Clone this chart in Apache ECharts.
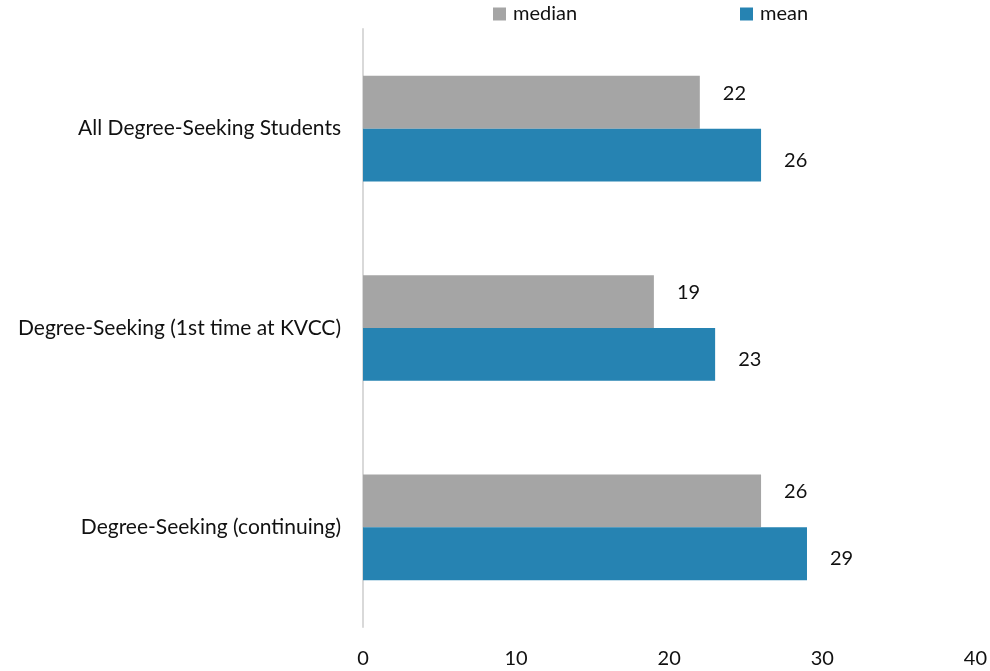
<!DOCTYPE html>
<html>
<head>
<meta charset="utf-8">
<script src="https://cdn.jsdelivr.net/npm/echarts@6/dist/echarts.min.js"></script>
<style>
  html, body { margin: 0; padding: 0; background: #fff; }
  #chart { width: 990px; height: 671px; }
</style>
</head>
<body>
<div id="chart"></div>
<script>
  // 分类和数据
  const categories = ['All Degree-Seeking Students', 'Degree-Seeking (1st time at KVCC)', 'Degree-Seeking (continuing)']
  const medianValues = [22, 19, 26]
  const meanValues = [26, 23, 29]
  const xTicks = [0, 10, 20, 30, 40]

  const chart = echarts.init(document.getElementById('chart'))
  // 图例样式
  const legendBase = {
    top: 4,
    padding: 0,
    itemWidth: 13,
    itemHeight: 13,
    icon: 'rect',
    textStyle: { fontSize: 20, color: '#111', fontFamily: 'Lato', padding: [0, 0, 0, 2] }
  }
  const option = {
    animation: false,
    textStyle: { fontFamily: 'Lato' },
    legend: [
      Object.assign({ left: 493, data: ['median'] }, legendBase),
      Object.assign({ left: 740, data: ['mean'] }, legendBase)
    ],
    grid: { left: 363, right: 13, top: 29, bottom: 44 },
    xAxis: {
      type: 'value',
      min: xTicks[0],
      max: xTicks[xTicks.length - 1],
      interval: 10,
      axisLine: { show: false },
      axisTick: { show: false },
      splitLine: { show: false },
      axisLabel: { fontSize: 20, color: '#111', margin: 22, fontFamily: 'Lato' }
    },
    yAxis: {
      type: 'category',
      inverse: true,
      data: categories,
      axisLine: { show: true, lineStyle: { color: '#d9d9d9', width: 2 } },
      axisTick: { show: false },
      axisLabel: { fontSize: 21, color: '#111', margin: 22, fontFamily: 'Lato' }
    },
    series: [
      {
        name: 'median',
        type: 'bar',
        data: medianValues,
        barGap: '0%',
        barCategoryGap: '47%',
        itemStyle: { color: '#a5a5a5' },
        label: { show: true, position: 'right', distance: 23, offset: [0, -9], fontSize: 20, color: '#111', fontFamily: 'Lato' }
      },
      {
        name: 'mean',
        type: 'bar',
        data: meanValues,
        barGap: '0%',
        barCategoryGap: '47%',
        itemStyle: { color: '#2683b2' },
        label: { show: true, position: 'right', distance: 23, offset: [0, 5], fontSize: 20, color: '#111', fontFamily: 'Lato' }
      }
    ]
  }
  chart.setOption(option)
</script>
</body>
</html>
